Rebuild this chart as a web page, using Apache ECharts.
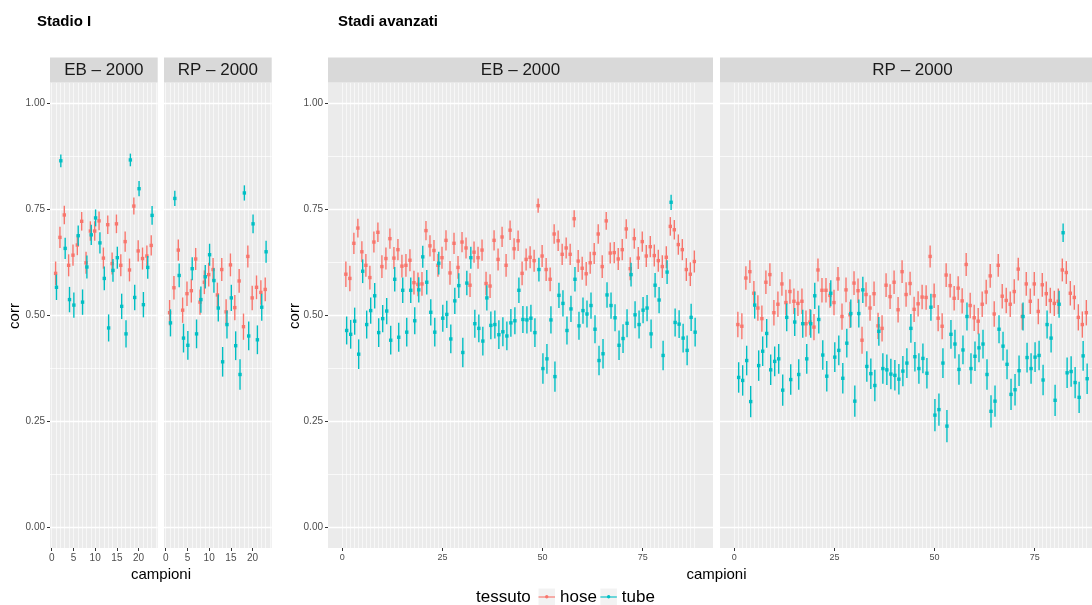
<!DOCTYPE html>
<html>
<head>
<meta charset="utf-8">
<script src="https://cdn.jsdelivr.net/npm/echarts@6/dist/echarts.min.js"></script>
<style>html,body{margin:0;padding:0;background:#fff}#chart{width:1092px;height:605px}</style>
</head>
<body>
<div id="chart"></div>
<script>
// campioni
var campioniI = [1,2,3,4,5,6,7,8,9,10,11,12,13,14,15,16,17,18,19,20,21,22,23];
var campioniAv = [1,2,3,4,5,6,7,8,9,10,11,12,13,14,15,16,17,18,19,20,21,22,23,24,25,26,27,28,29,30,
  31,32,33,34,35,36,37,38,39,40,41,42,43,44,45,46,47,48,49,50,51,52,53,54,55,56,57,58,59,60,
  61,62,63,64,65,66,67,68,69,70,71,72,73,74,75,76,77,78,79,80,81,82,83,84,85,86,87,88];

// Stadio I - EB 2000
var ebI_hose = [0.599,0.684,0.737,0.618,0.642,0.666,0.722,0.624,0.699,0.699,0.723,0.635,0.714,0.622,0.716,0.618,0.674,0.607,0.758,0.652,0.634,0.640,0.665];
var ebI_hose_err = [0.028,0.025,0.022,0.026,0.025,0.024,0.022,0.026,0.023,0.023,0.022,0.025,0.022,0.026,0.022,0.026,0.024,0.027,0.020,0.025,0.026,0.025,0.024];
var ebI_tube = [0.566,0.865,0.658,0.537,0.524,0.688,0.531,0.614,0.690,0.730,0.671,0.587,0.470,0.606,0.636,0.521,0.456,0.867,0.542,0.799,0.525,0.613,0.736];
var ebI_tube_err = [0.030,0.015,0.025,0.030,0.030,0.024,0.030,0.027,0.024,0.020,0.025,0.028,0.032,0.027,0.026,0.030,0.032,0.015,0.030,0.018,0.030,0.027,0.022];
// Stadio I - RP 2000
var rpI_hose = [0.506,0.565,0.654,0.512,0.551,0.558,0.633,0.531,0.578,0.596,0.608,0.548,0.608,0.508,0.619,0.518,0.581,0.473,0.639,0.541,0.566,0.554,0.561];
var rpI_hose_err = [0.030,0.028,0.025,0.030,0.029,0.028,0.026,0.030,0.028,0.028,0.027,0.029,0.027,0.030,0.027,0.030,0.028,0.031,0.026,0.029,0.028,0.029,0.028];
var rpI_tube = [0.482,0.776,0.594,0.446,0.429,0.610,0.456,0.537,0.591,0.643,0.582,0.517,0.390,0.478,0.541,0.428,0.360,0.789,0.451,0.716,0.442,0.519,0.650];
var rpI_tube_err = [0.032,0.018,0.028,0.034,0.034,0.027,0.034,0.031,0.028,0.026,0.029,0.032,0.035,0.033,0.031,0.034,0.036,0.018,0.034,0.022,0.034,0.032,0.026];
// Stadi avanzati - EB 2000
var ebAv_hose = [0.597,0.587,0.670,0.706,0.650,0.618,0.589,0.673,0.696,0.615,
  0.634,0.681,0.635,0.655,0.616,0.618,0.630,0.577,0.573,0.574,
  0.700,0.664,0.653,0.618,0.636,0.677,0.600,0.670,0.613,0.673,
  0.659,0.571,0.649,0.636,0.654,0.575,0.569,0.677,0.632,0.685,
  0.618,0.701,0.657,0.676,0.599,0.632,0.637,0.629,0.759,0.640,
  0.608,0.585,0.692,0.676,0.644,0.659,0.644,0.728,0.628,0.611,
  0.598,0.624,0.646,0.692,0.615,0.723,0.647,0.648,0.633,0.655,
  0.704,0.610,0.681,0.635,0.674,0.640,0.662,0.641,0.629,0.615,
  0.637,0.710,0.702,0.667,0.655,0.608,0.597,0.627];
var ebAv_hose_err = [0.030,0.030,0.025,0.022,0.025,0.027,0.028,0.025,0.023,0.027,
  0.026,0.024,0.026,0.025,0.027,0.027,0.026,0.028,0.028,0.028,
  0.023,0.025,0.025,0.027,0.026,0.024,0.028,0.025,0.027,0.024,
  0.025,0.028,0.025,0.026,0.025,0.028,0.028,0.024,0.026,0.024,
  0.027,0.023,0.025,0.024,0.028,0.026,0.026,0.026,0.017,0.026,
  0.027,0.028,0.023,0.024,0.025,0.025,0.025,0.020,0.026,0.027,
  0.028,0.026,0.025,0.023,0.027,0.021,0.025,0.025,0.026,0.025,
  0.023,0.027,0.024,0.026,0.024,0.026,0.025,0.026,0.026,0.027,
  0.026,0.022,0.023,0.024,0.025,0.027,0.028,0.026];
var ebAv_tube = [0.464,0.455,0.486,0.408,0.604,0.478,0.511,0.546,0.459,0.492,
  0.510,0.441,0.585,0.448,0.559,0.460,0.559,0.487,0.560,0.638,
  0.578,0.507,0.460,0.623,0.493,0.502,0.444,0.534,0.570,0.412,
  0.576,0.636,0.480,0.469,0.439,0.541,0.476,0.478,0.454,0.461,
  0.451,0.482,0.487,0.559,0.490,0.489,0.493,0.459,0.608,0.374,
  0.397,0.489,0.355,0.547,0.528,0.464,0.515,0.585,0.475,0.511,
  0.503,0.523,0.467,0.393,0.409,0.548,0.523,0.494,0.429,0.445,
  0.481,0.596,0.501,0.478,0.512,0.517,0.456,0.571,0.536,0.405,
  0.602,0.767,0.483,0.479,0.446,0.417,0.495,0.460];
var ebAv_tube_err = [0.033,0.034,0.032,0.035,0.028,0.033,0.031,0.030,0.034,0.032,
  0.031,0.034,0.029,0.034,0.030,0.034,0.030,0.032,0.030,0.026,
  0.029,0.031,0.034,0.027,0.032,0.032,0.034,0.031,0.029,0.035,
  0.029,0.026,0.033,0.033,0.034,0.030,0.033,0.033,0.034,0.034,
  0.034,0.033,0.032,0.030,0.032,0.032,0.032,0.034,0.028,0.036,
  0.035,0.032,0.036,0.030,0.031,0.033,0.031,0.029,0.033,0.031,
  0.032,0.031,0.033,0.035,0.035,0.030,0.031,0.032,0.035,0.034,
  0.033,0.028,0.032,0.033,0.031,0.031,0.034,0.029,0.031,0.035,
  0.028,0.018,0.033,0.033,0.034,0.035,0.032,0.034];
// Stadi avanzati - RP 2000
var rpAv_hose = [0.478,0.474,0.588,0.603,0.552,0.517,0.492,0.578,0.596,0.506,
  0.526,0.574,0.530,0.556,0.533,0.528,0.533,0.480,0.484,0.472,
  0.607,0.559,0.559,0.547,0.530,0.586,0.497,0.560,0.501,0.576,
  0.558,0.441,0.549,0.517,0.551,0.475,0.469,0.571,0.544,0.578,
  0.513,0.603,0.549,0.575,0.514,0.527,0.543,0.542,0.639,0.546,
  0.493,0.474,0.595,0.570,0.540,0.564,0.534,0.620,0.523,0.494,
  0.486,0.526,0.555,0.593,0.503,0.618,0.545,0.535,0.526,0.556,
  0.609,0.497,0.574,0.533,0.574,0.509,0.572,0.551,0.535,0.528,
  0.533,0.607,0.601,0.552,0.542,0.495,0.478,0.506];
var rpAv_hose_err = [0.030,0.031,0.028,0.027,0.029,0.030,0.031,0.028,0.027,0.030,
  0.030,0.028,0.030,0.029,0.030,0.030,0.030,0.031,0.031,0.031,
  0.027,0.029,0.029,0.029,0.030,0.028,0.031,0.029,0.031,0.028,
  0.029,0.032,0.029,0.030,0.029,0.031,0.031,0.028,0.029,0.028,
  0.030,0.027,0.029,0.028,0.030,0.030,0.029,0.029,0.026,0.029,
  0.031,0.031,0.028,0.028,0.029,0.028,0.030,0.027,0.030,0.031,
  0.031,0.030,0.029,0.028,0.030,0.027,0.029,0.030,0.030,0.029,
  0.027,0.031,0.028,0.030,0.028,0.030,0.028,0.029,0.030,0.030,
  0.030,0.027,0.027,0.029,0.029,0.031,0.031,0.030];
var rpAv_tube = [0.353,0.346,0.393,0.296,0.524,0.381,0.415,0.457,0.371,0.391,
  0.397,0.323,0.495,0.348,0.484,0.360,0.480,0.397,0.480,0.546,
  0.490,0.406,0.356,0.552,0.401,0.417,0.351,0.434,0.504,0.297,
  0.504,0.560,0.379,0.362,0.334,0.462,0.374,0.371,0.361,0.358,
  0.349,0.368,0.387,0.469,0.402,0.374,0.398,0.363,0.519,0.264,
  0.277,0.387,0.238,0.455,0.432,0.372,0.418,0.497,0.374,0.403,
  0.423,0.432,0.360,0.273,0.297,0.467,0.427,0.384,0.313,0.324,
  0.369,0.497,0.400,0.374,0.401,0.405,0.347,0.478,0.446,0.299,
  0.526,0.695,0.364,0.367,0.341,0.306,0.404,0.350];
var rpAv_tube_err = [0.036,0.036,0.035,0.037,0.032,0.036,0.035,0.034,0.036,0.035,
  0.035,0.037,0.033,0.036,0.033,0.036,0.033,0.035,0.033,0.031,
  0.033,0.035,0.036,0.031,0.035,0.035,0.036,0.034,0.033,0.037,
  0.033,0.031,0.036,0.036,0.037,0.034,0.036,0.036,0.036,0.036,
  0.036,0.036,0.035,0.034,0.035,0.036,0.035,0.036,0.032,0.038,
  0.038,0.035,0.038,0.034,0.034,0.036,0.034,0.033,0.036,0.035,
  0.034,0.034,0.036,0.038,0.037,0.033,0.034,0.035,0.037,0.037,
  0.036,0.033,0.035,0.036,0.035,0.035,0.036,0.033,0.034,0.037,
  0.032,0.022,0.036,0.036,0.037,0.037,0.035,0.036];

var xTicksI = [0, 5, 10, 15, 20];
var xTicksAv = [0, 25, 50, 75];
var yTicks = [0, 0.25, 0.5, 0.75, 1];
var yMinor = [0.125, 0.375, 0.625, 0.875];
var strips = ['EB \u2013 2000', 'RP \u2013 2000', 'EB \u2013 2000', 'RP \u2013 2000'];

var HOSE = '#F8766D', TUBE = '#00BFC4';
var FONT = '"Liberation Sans", Arial, Helvetica, sans-serif';

var panels = [
  {left: 50, width: 107.7, min: -0.39, max: 24.39, ticks: xTicksI, n: 24, fs: 10},
  {left: 164, width: 107.7, min: -0.39, max: 24.39, ticks: xTicksI, n: 24, fs: 10},
  {left: 328, width: 385, min: -3.56, max: 92.56, ticks: xTicksAv, n: 88, fs: 9},
  {left: 720, width: 385, min: -3.56, max: 92.56, ticks: xTicksAv, n: 88, fs: 9}
];
var PTOP = 82.5, PH = 465.5;

var myChart = echarts.init(document.getElementById('chart'));

var grid = [], xAxis = [], yAxis = [], graphic = [];
panels.forEach(function (p, i) {
  grid.push({left: p.left, top: PTOP, width: p.width, height: PH, show: true,
    backgroundColor: '#EBEBEB', borderWidth: 0, containLabel: false, outerBoundsMode: 'none'});
  var vlines = [];
  for (var k = 0; k <= p.n; k++) vlines.push(k);
  // asse con etichette
  xAxis.push({type: 'value', gridIndex: i, min: p.min, max: p.max, position: 'bottom',
    axisLine: {show: false, onZero: false},
    axisTick: {show: true, length: 3, lineStyle: {color: '#333333', width: 1}, customValues: p.ticks},
    axisLabel: {customValues: p.ticks, fontSize: p.fs, color: '#4D4D4D', fontFamily: FONT, margin: 5},
    splitLine: {show: false}});
  // griglia verticale fitta
  xAxis.push({type: 'value', gridIndex: i, min: p.min, max: p.max, position: 'top',
    axisLine: {show: false, onZero: false}, axisLabel: {show: false},
    axisTick: {show: false, customValues: vlines},
    splitLine: {show: true, lineStyle: {color: '#FFFFFF', width: 0.8, opacity: 0.75}}});
  yAxis.push({type: 'value', gridIndex: i, min: -0.05, max: 1.05, position: 'left',
    axisLine: {show: false, onZero: false},
    axisTick: {show: i === 0 || i === 2, length: 3, lineStyle: {color: '#333333'}, customValues: yTicks},
    axisLabel: {show: i === 0 || i === 2, customValues: yTicks, fontSize: 10, color: '#4D4D4D', fontFamily: FONT, margin: 5,
      formatter: function (v) { return v.toFixed(2); }},
    splitLine: {show: true, lineStyle: {color: '#FFFFFF', width: 1.4}}});
  yAxis.push({type: 'value', gridIndex: i, min: -0.05, max: 1.05, position: 'right',
    axisLine: {show: false, onZero: false}, axisLabel: {show: false},
    axisTick: {show: false, customValues: yMinor},
    splitLine: {show: true, lineStyle: {color: '#FFFFFF', width: 0.7}}});
  // strip
  graphic.push({type: 'rect', shape: {x: p.left, y: 57.5, width: p.width, height: 25}, style: {fill: '#D9D9D9'}, z: 1});
  graphic.push({type: 'text', x: p.left + p.width / 2, y: 70.5, z: 2,
    style: {text: strips[i], font: '17px ' + FONT, fill: '#1A1A1A', textAlign: 'center', textVerticalAlign: 'middle'}});
});

// titoli e nomi degli assi
graphic.push({type: 'text', x: 37, y: 22, style: {text: 'Stadio I', font: 'bold 15px ' + FONT, fill: '#000', textVerticalAlign: 'middle'}});
graphic.push({type: 'text', x: 338, y: 22, style: {text: 'Stadi avanzati', font: 'bold 15px ' + FONT, fill: '#000', textVerticalAlign: 'middle'}});
graphic.push({type: 'text', x: 15, y: 316, rotation: Math.PI / 2, style: {text: 'corr', font: '15px ' + FONT, fill: '#000', textAlign: 'center', textVerticalAlign: 'middle'}});
graphic.push({type: 'text', x: 295, y: 316, rotation: Math.PI / 2, style: {text: 'corr', font: '15px ' + FONT, fill: '#000', textAlign: 'center', textVerticalAlign: 'middle'}});
graphic.push({type: 'text', x: 161, y: 575, style: {text: 'campioni', font: '15px ' + FONT, fill: '#000', textAlign: 'center', textVerticalAlign: 'middle'}});
graphic.push({type: 'text', x: 716.5, y: 575, style: {text: 'campioni', font: '15px ' + FONT, fill: '#000', textAlign: 'center', textVerticalAlign: 'middle'}});
// legenda
graphic.push({type: 'text', x: 476, y: 597, style: {text: 'tessuto', font: '17px ' + FONT, fill: '#000', textVerticalAlign: 'middle'}});
graphic.push({type: 'rect', shape: {x: 538.5, y: 588.5, width: 16.5, height: 16.5}, style: {fill: '#F2F2F2'}, z: 0});
graphic.push({type: 'rect', shape: {x: 600.4, y: 588.5, width: 16.5, height: 16.5}, style: {fill: '#F2F2F2'}, z: 0});
graphic.push({type: 'circle', shape: {cx: 546.75, cy: 596.75, r: 1.7}, style: {fill: HOSE}, z: 100});
graphic.push({type: 'circle', shape: {cx: 608.65, cy: 596.75, r: 1.7}, style: {fill: TUBE}, z: 100});

function pointRange(name, xs, ys, es, gi, off) {
  return {
    type: 'custom', name: name, xAxisIndex: gi * 2, yAxisIndex: gi * 2,
    itemStyle: {color: name === 'hose' ? HOSE : TUBE},
    data: xs.map(function (x, k) { return [x, ys[k], es[k]]; }),
    encode: {x: 0, y: 1},
    silent: true, z: 5,
    renderItem: function (params, api) {
      var x = api.value(0) + off, y = api.value(1), e = api.value(2);
      var top = api.coord([x, y + e]);
      var bot = api.coord([x, y - e]);
      var mid = api.coord([x, y]);
      var c = api.visual('color');
      return {type: 'group', children: [
        {type: 'line', shape: {x1: top[0], y1: top[1], x2: bot[0], y2: bot[1]}, style: {stroke: c, lineWidth: 1.4}},
        {type: 'rect', shape: {x: mid[0] - 1.7, y: mid[1] - 1.7, width: 3.4, height: 3.4}, style: {fill: c}}
      ]};
    }
  };
}

var option = {
  animation: false,
  grid: grid,
  xAxis: xAxis,
  yAxis: yAxis,
  graphic: graphic,
  legend: {
    data: ['hose', 'tube'], left: 538.5, top: 588.5, padding: 0, itemWidth: 16.5, itemHeight: 16.5, itemGap: 3.5,
    icon: 'path://M0,0H16V1.1H0Z', selectedMode: false,
    textStyle: {fontSize: 17, color: '#000', fontFamily: FONT}
  },
  series: [
    pointRange('hose', campioniI, ebI_hose, ebI_hose_err, 0, -0.1),
    pointRange('tube', campioniI, ebI_tube, ebI_tube_err, 0, 0.1),
    pointRange('hose', campioniI, rpI_hose, rpI_hose_err, 1, -0.1),
    pointRange('tube', campioniI, rpI_tube, rpI_tube_err, 1, 0.1),
    pointRange('hose', campioniAv, ebAv_hose, ebAv_hose_err, 2, -0.1),
    pointRange('tube', campioniAv, ebAv_tube, ebAv_tube_err, 2, 0.1),
    pointRange('hose', campioniAv, rpAv_hose, rpAv_hose_err, 3, -0.1),
    pointRange('tube', campioniAv, rpAv_tube, rpAv_tube_err, 3, 0.1)
  ]
};

myChart.setOption(option);
</script>
</body>
</html>
